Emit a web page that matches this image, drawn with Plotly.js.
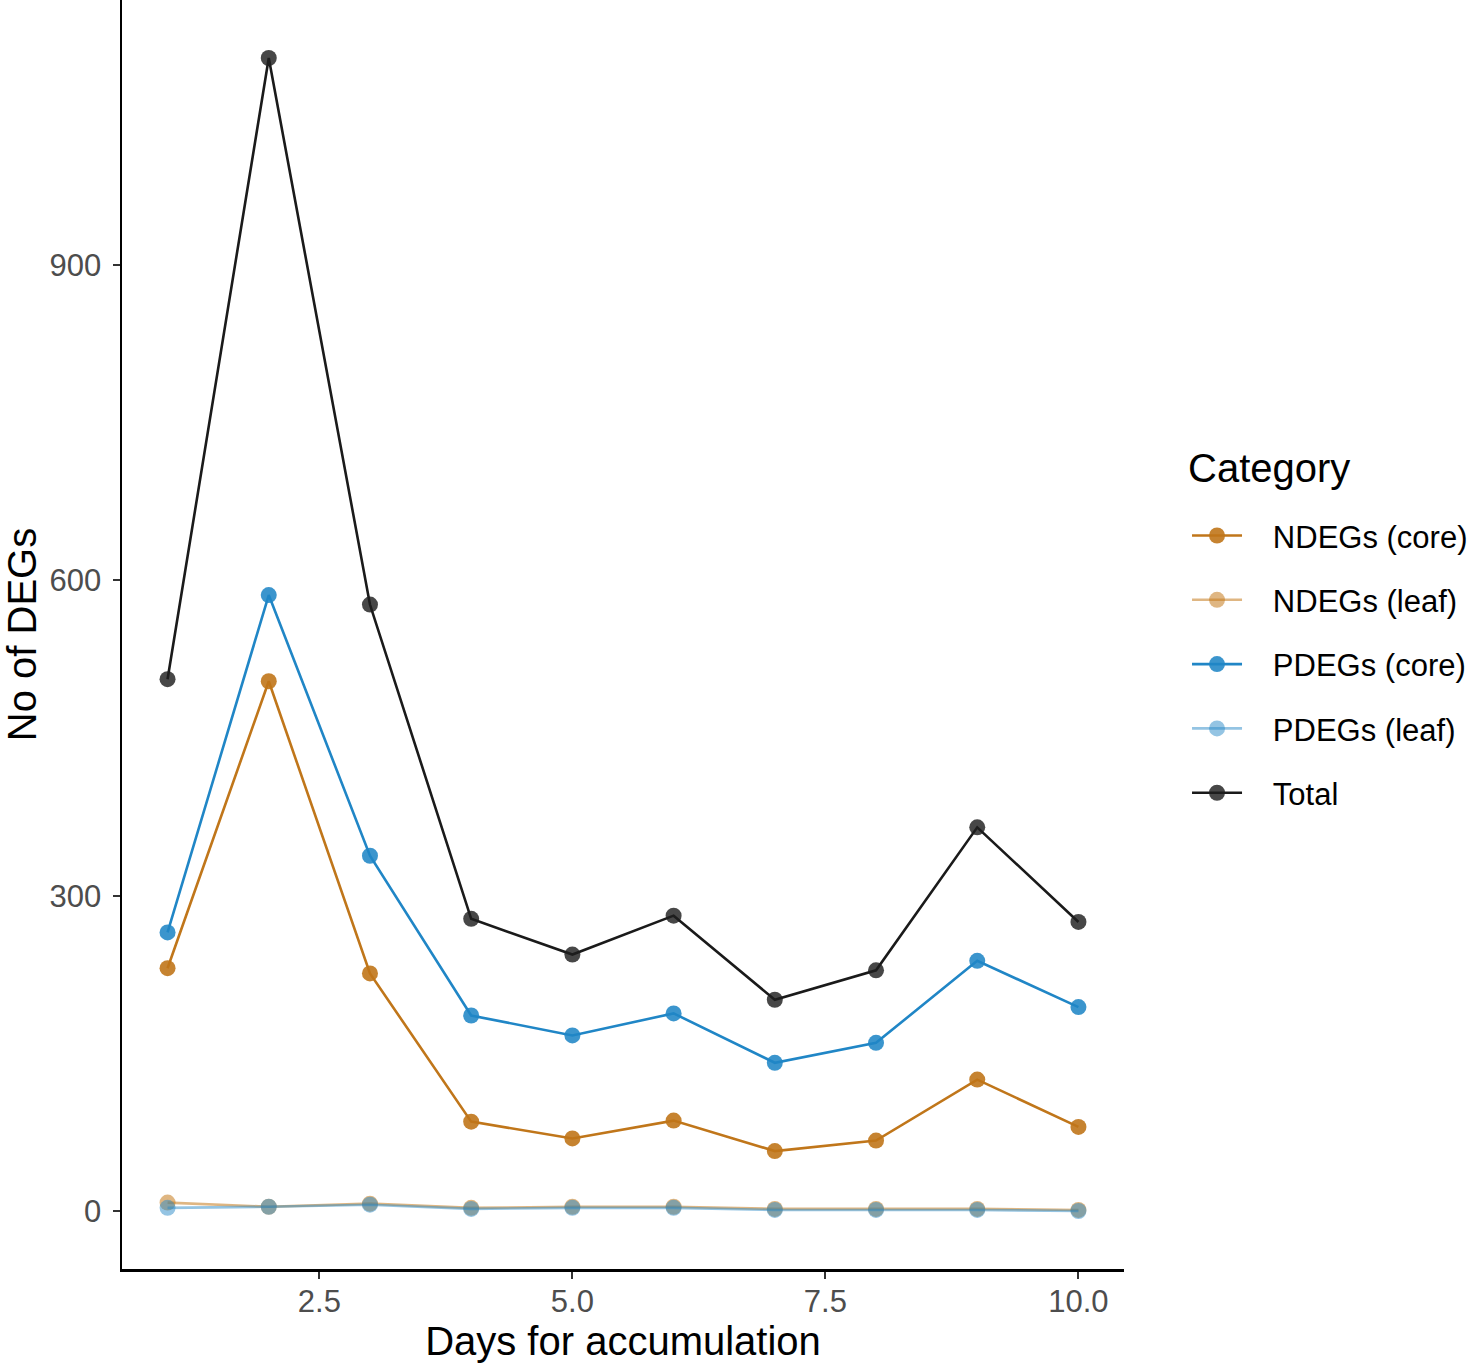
<!DOCTYPE html>
<html>
<head>
<meta charset="utf-8">
<script src="https://cdn.plot.ly/plotly-3.0.1.min.js"></script>
<style>
  html, body { margin: 0; padding: 0; background: #fff; }
  #chart { width: 1476px; height: 1370px; }
</style>
</head>
<body>
<div id="chart"></div>
<script>
// ── Data ────────────────────────────────────────────────────────────
const days = [1, 2, 3, 4, 5, 6, 7, 8, 9, 10];

const ndegsCore = [231, 504, 226, 85, 69, 86, 57, 67, 125, 80];
const ndegsLeaf = [8, 4, 7, 3, 4, 4, 2, 2, 2, 1];
const pdegsCore = [265, 586, 338, 186, 167, 188, 141, 160, 238, 194];
const pdegsLeaf = [3, 4, 6, 2, 3, 3, 1, 1, 1, 0];
const total     = [506, 1097, 577, 278, 244, 281, 201, 229, 365, 275];

const seriesNames = ["NDEGs (core)", "NDEGs (leaf)", "PDEGs (core)", "PDEGs (leaf)", "Total"];
const xTicks = [2.5, 5.0, 7.5, 10.0];
const xTickText = ["2.5", "5.0", "7.5", "10.0"];
const yTicks = [0, 300, 600, 900];

// ── Styles ──────────────────────────────────────────────────────────
const FONT = "Liberation Sans, Arial, Helvetica, sans-serif";
const LINE_COLORS = [
  "#C0761A",
  "rgba(196,122,28,0.55)",
  "#2086C6",
  "rgba(42,138,200,0.5)",
  "#1a1a1a",
];
const MARKER_COLORS = [
  "rgba(192,118,26,0.9)",
  "rgba(196,122,28,0.55)",
  "rgba(32,134,198,0.88)",
  "rgba(42,138,200,0.5)",
  "rgba(30,30,30,0.82)",
];
// small gap between the legend key and its label, like ggplot
const PAD = "\u00a0\u00a0\u00a0";

const allY = [ndegsCore, ndegsLeaf, pdegsCore, pdegsLeaf, total];

const traces = allY.map((y, i) => ({
  x: days,
  y: y,
  type: "scatter",
  mode: "lines+markers",
  name: PAD + seriesNames[i],
  legendgroup: "g" + i,
  line: { color: LINE_COLORS[i], width: 2.6 },
  marker: { color: MARKER_COLORS[i], size: 16, line: { width: 0 } },
}));

const layout = {
  width: 1476,
  height: 1370,
  margin: { l: 122, r: 352, t: 0, b: 101 },
  paper_bgcolor: "#fff",
  plot_bgcolor: "#fff",
  font: { family: FONT, color: "#000" },
  showlegend: true,
  legend: {
    x: 1.0629,
    xanchor: "left",
    y: 0.599,
    yanchor: "top",
    font: { size: 31, family: FONT, color: "#000" },
    tracegroupgap: 21,
    traceorder: "grouped",
    itemwidth: 50,
    bgcolor: "rgba(0,0,0,0)",
  },
  annotations: [{
    text: "Category",
    xref: "paper", yref: "paper",
    x: 1.062, y: 1 - 468 / 1269,
    xanchor: "left", yanchor: "middle",
    showarrow: false,
    font: { size: 40, family: FONT, color: "#000" },
  }],
  xaxis: {
    range: [0.55, 10.45],
    tickvals: xTicks,
    ticktext: xTickText,
    ticks: "outside",
    ticklen: 7,
    tickwidth: 2,
    tickcolor: "#333",
    ticklabelstandoff: -4,
    tickfont: { size: 31, family: FONT, color: "#4d4d4d" },
    showline: true,
    linecolor: "#000",
    linewidth: 2.5,
    showgrid: false,
    zeroline: false,
    title: { text: "Days for accumulation", font: { size: 40, family: FONT, color: "#000" }, standoff: 8 },
  },
  yaxis: {
    range: [-55.2, 1152.2],
    tickvals: yTicks,
    ticks: "outside",
    ticklen: 7,
    tickwidth: 2,
    tickcolor: "#333",
    ticklabelstandoff: 5,
    tickfont: { size: 31, family: FONT, color: "#4d4d4d" },
    showline: true,
    linecolor: "#000",
    linewidth: 2.5,
    showgrid: false,
    zeroline: false,
    title: { text: "No of DEGs", font: { size: 40, family: FONT, color: "#000" }, standoff: 9 },
  },
};

Plotly.newPlot("chart", traces, layout, { displayModeBar: false, staticPlot: true });
</script>
</body>
</html>
